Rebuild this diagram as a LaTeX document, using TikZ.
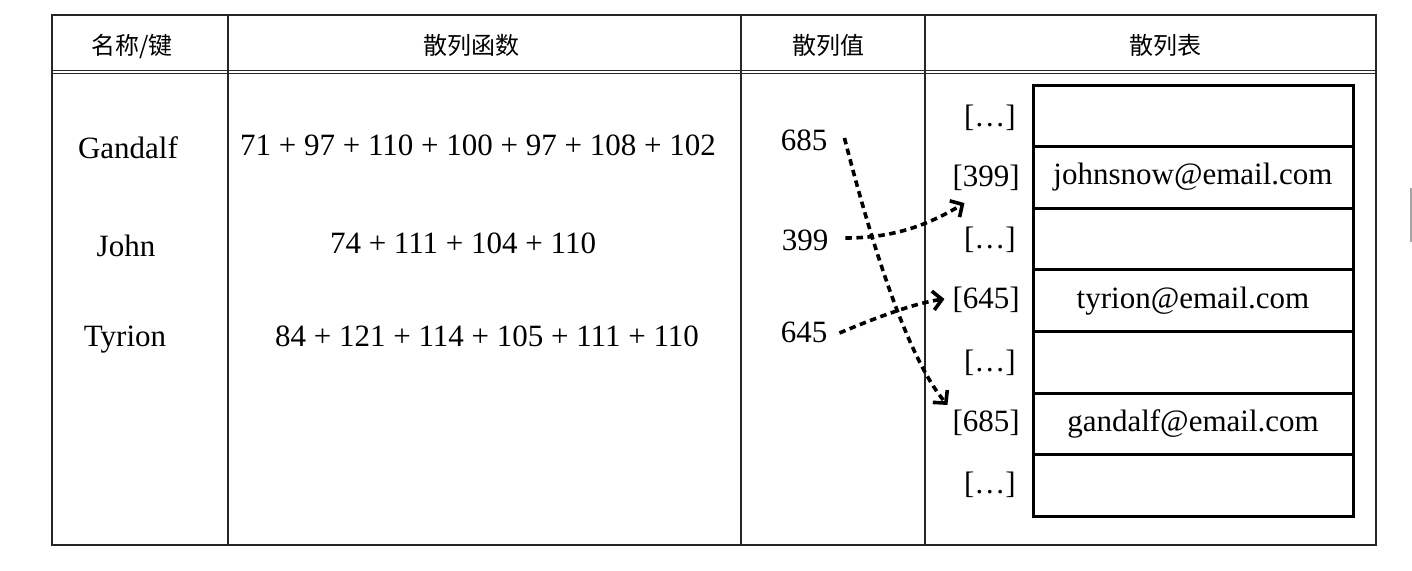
\documentclass[tikz,border=0pt]{standalone}
\usepackage{fontspec}
\setmainfont{Liberation Serif}
\newfontfamily\cjk{Noto Sans CJK SC}
\usetikzlibrary{arrows.meta}
\tikzset{
  grid/.style={line width=1.5pt, draw=black!85},
  head/.style={font=\cjk\fontsize{24}{28}\selectfont, inner sep=0pt},
  body/.style={font=\fontsize{31}{36}\selectfont, inner sep=0pt},
  cell/.style={draw, line width=3pt, minimum width=320pt, minimum height=61.6pt, inner sep=0pt, font=\fontsize{31}{36}\selectfont},
  idx/.style={body, anchor=east},
  arr/.style={line width=3.6pt, dash pattern=on 6.5pt off 4.5pt, -{Straight Barb[length=9pt,width=19pt]}}
}
\begin{document}
\begin{tikzpicture}[x=1pt,y=-1pt]
\useasboundingbox (0,0) rectangle (1412,570);
% table frame
\draw[grid] (52,15) rectangle (1376,545);
\draw[line width=1.1pt, draw=black!85] (52,70.5) -- (1376,70.5);
\draw[line width=1.1pt, draw=black!85] (52,73.8) -- (1376,73.8);
\draw[grid] (228,15) -- (228,545);
\draw[grid] (741,15) -- (741,545);
\draw[grid] (925,15) -- (925,545);
% stray mark at right edge
\draw[line width=1.5pt, draw=black!35] (1411,188) -- (1411,242);
% headers
\node[head] (h1) at (132,47) {名称/键};
\node[head] (h2) at (471,45) {散列函数};
\node[head] (h3) at (828,45) {散列值};
\node[head] (h4) at (1165,45) {散列表};
% keys
\node[body] (k1) at (128,148) {Gandalf};
\node[body] (k2) at (126,246) {John};
\node[body] (k3) at (125,340) {Tyrion};
% functions
\node[body] (f1) at (478,145) {71 + 97 + 110 + 100 + 97 + 108 + 102};
\node[body] (f2) at (463,243) {74 + 111 + 104 + 110};
\node[body] (f3) at (487,336) {84 + 121 + 114 + 105 + 111 + 110};
% hash values
\node[body] (v685) at (804,140) {685};
\node[body] (v399) at (805,240) {399};
\node[body] (v645) at (804,332) {645};
% hash table cells
\node[cell] (c1) at (1193,115.8) {};
\node[cell] (c2) at (1193,177.4) {johnsnow@email.com};
\node[cell] (c3) at (1193,239.0) {};
\node[cell] (c4) at (1193,300.6) {tyrion@email.com};
\node[cell] (c5) at (1193,362.2) {};
\node[cell] (c6) at (1193,423.8) {gandalf@email.com};
\node[cell] (c7) at (1193,485.4) {};
% indices
\node[idx] (l1) at (1016,118) {[…]};
\node[idx] (l399) at (1020,178) {[399]};
\node[idx] (l3) at (1016,240) {[…]};
\node[idx] (l645) at (1020,300) {[645]};
\node[idx] (l5) at (1016,363) {[…]};
\node[idx] (l685) at (1020,423) {[685]};
\node[idx] (l7) at (1016,485) {[…]};
% arrows
\draw[arr] ([shift={(17,-2)}]v685.east) .. controls (868,230) and (905,355) .. ([shift={(-5,-5)}]l685.north west);
\draw[arr] ([shift={(17,-2)}]v399.east) .. controls (890,238) and (925,227) .. ([shift={(12,12)}]l399.south west);
\draw[arr] ([shift={(12,1)}]v645.east) .. controls (875,318) and (915,303) .. ([shift={(-8,-1)}]l645.west);
\end{tikzpicture}
\end{document}
